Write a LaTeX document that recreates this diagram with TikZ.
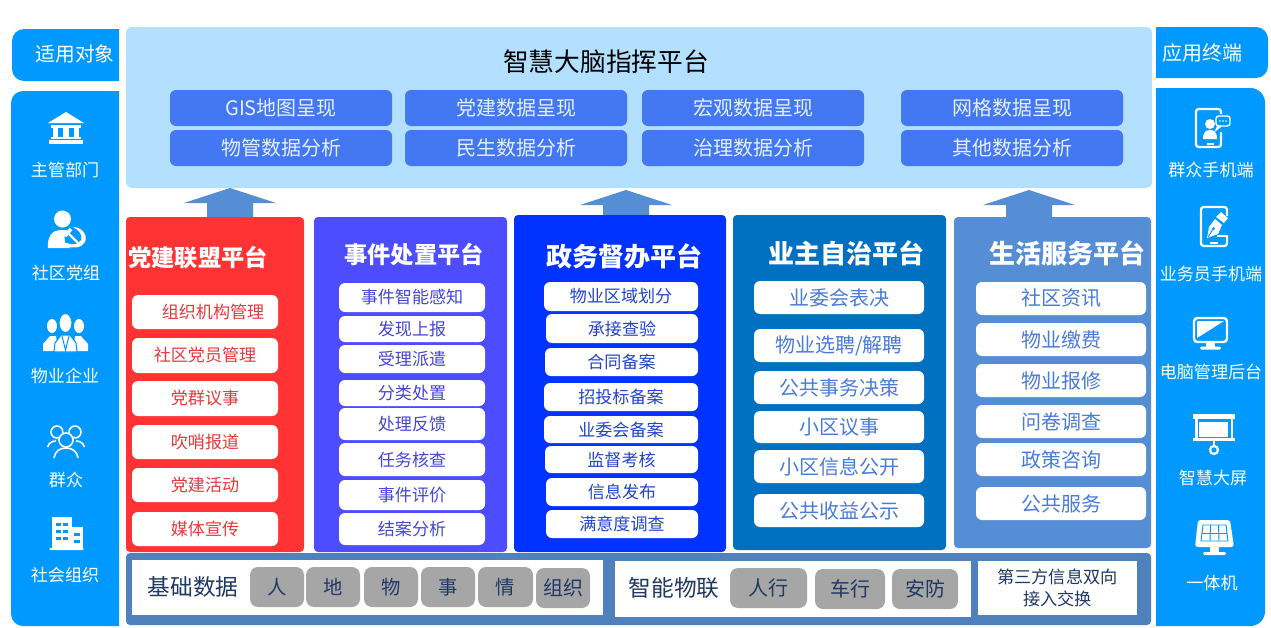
\documentclass[tikz,border=0pt]{standalone}
\usepackage{fontspec}
\setmainfont{Noto Sans CJK SC}
\definecolor{sidecol}{HTML}{0099FF}
\definecolor{topcol}{HTML}{B3E0FF}
\definecolor{btncol}{HTML}{4477F2}
\definecolor{btntxt}{HTML}{E3EFFF}
\definecolor{redcol}{HTML}{FF3333}
\definecolor{redtxt}{HTML}{E8383D}
\definecolor{purcol}{HTML}{4D4DFF}
\definecolor{purtxt}{HTML}{4545D8}
\definecolor{blucol}{HTML}{0033FF}
\definecolor{blutxt}{HTML}{2244C8}
\definecolor{teacol}{HTML}{0070C0}
\definecolor{teatxt}{HTML}{4A7BD8}
\definecolor{lgtcol}{HTML}{558ED5}
\definecolor{botcol}{HTML}{4F81BD}
\definecolor{pilcol}{HTML}{A6A6A6}
\definecolor{inktxt}{HTML}{1F3864}
\tikzset{
	px/.style={x=0.75pt,y=-0.75pt},
	fs/.style={font=\fontsize{#1}{#1}\selectfont},
	platebox/.style={rounded corners=3pt,inner sep=0pt},
	btnbox/.style={platebox,fill=btncol,text=btntxt,rounded corners=4.5pt,fs=15},
	itembox/.style={fill=white,rounded corners=4.5pt,inner sep=0pt},
	reditem/.style={itembox,text=redtxt,fs=12.8},
	puritem/.style={itembox,text=purtxt,fs=12.8},
	bluitem/.style={itembox,text=blutxt,fs=12.8},
	teaitem/.style={itembox,text=teatxt,fs=15},
	lgtitem/.style={itembox,text=teatxt,fs=15},
	pillbox/.style={fill=pilcol,text=inktxt,rounded corners=6pt,inner sep=0pt,fs=14.5},
	whitebox/.style={fill=white,inner sep=0pt},
	heading/.style={text=white,inner sep=0pt,font=\fontsize{#1}{#1}\selectfont\bfseries},
	sidetext/.style={text=white,inner sep=0pt,fs=12.8},
	inktext/.style={text=inktxt,inner sep=0pt,fs=17},
}
\def\cellbox[#1](#2)(#3,#4)(#5,#6)#7{\node[#1,minimum width={(#5-#3)*0.75pt},minimum height={(#6-#4)*0.75pt}] (#2) at ({(#3+#5)/2},{(#4+#6)/2}) {#7};}
\def\upblock(#1,#2,#3){\fill[lgtcol] (#1,#2) -- (#1+46,#2+15) -- (#1+23,#2+15) -- (#1+23,#3) -- (#1-23,#3) -- (#1-23,#2+15) -- (#1-46,#2+15) -- cycle;}

\begin{document}
\begin{tikzpicture}[px]
	\useasboundingbox (0,0) rectangle (1271,628);
	
	%%%%% side panels %%%%%
	\fill[sidecol] (119,29) [rounded corners=9pt] -- (12,29) -- (12,81) [sharp corners] -- (119,81) -- cycle;
	\fill[sidecol] (119,91) [rounded corners=9pt] -- (11,91) -- (11,626) [sharp corners] -- (119,626) -- cycle;
	\fill[sidecol] (1156,27) [rounded corners=9pt] -- (1268,27) -- (1268,78) [sharp corners] -- (1156,78) -- cycle;
	\fill[sidecol] (1156,88) [rounded corners=11pt] -- (1265,88) -- (1265,626) [sharp corners] -- (1156,626) -- cycle;
	
	\node[sidetext,fs=14.8] (usehead) at (75,54) {适用对象};
	\node[sidetext] (user1) at (65,170) {主管部门};
	\node[sidetext] (user2) at (66,273) {社区党组};
	\node[sidetext] (user3) at (65,376) {物业企业};
	\node[sidetext] (user4) at (66,480) {群众};
	\node[sidetext] (user5) at (65,575) {社会组织};
	
	\node[sidetext,fs=15] (termhead) at (1202,53) {应用终端};
	\node[sidetext] (term1) at (1211,170) {群众手机端};
	\node[sidetext] (term2) at (1211,274) {业务员手机端};
	\node[sidetext] (term3) at (1211,372) {电脑管理后台};
	\node[sidetext] (term4) at (1213,478) {智慧大屏};
	\node[sidetext] (term5) at (1212,583) {一体机};
	
	%%%%% top platform %%%%%
	\cellbox[platebox,fill=topcol,rounded corners=4.5pt](brain)(126,27)(1152,188){}
	\node[text=black,inner sep=0pt,fs=19.3] (braintitle) at (606,62) {智慧大脑指挥平台};
	\cellbox[btnbox](btn1)(170,90)(392,126){GIS地图呈现}
	\cellbox[btnbox](btn2)(405,90)(627,126){党建数据呈现}
	\cellbox[btnbox](btn3)(642,90)(864,126){宏观数据呈现}
	\cellbox[btnbox](btn4)(901,90)(1123,126){网格数据呈现}
	\cellbox[btnbox](btn5)(170,130)(392,166){物管数据分析}
	\cellbox[btnbox](btn6)(405,130)(627,166){民生数据分析}
	\cellbox[btnbox](btn7)(642,130)(864,166){治理数据分析}
	\cellbox[btnbox](btn8)(901,130)(1123,166){其他数据分析}
	
	\upblock(230,188,217)
	\upblock(626,190,215)
	\upblock(1029,190,217)
	
	%%%%% five columns %%%%%
	\cellbox[platebox,fill=redcol](redpanel)(126,217)(304,552){}
	\node[heading=17.4] (redtitle) at (198,258) {党建联盟平台};
	\cellbox[reditem](red1)(132,295)(278,329){\hspace{12pt}组织机构管理}
	\cellbox[reditem](red2)(132,338)(278,373){社区党员管理}
	\cellbox[reditem](red3)(132,381)(278,416){党群议事}
	\cellbox[reditem](red4)(132,425)(278,459){吹哨报道}
	\cellbox[reditem](red5)(132,468)(278,502){党建活动}
	\cellbox[reditem](red6)(132,512)(278,546){媒体宣传}
	
	\cellbox[platebox,fill=purcol](purpanel)(314,217)(507,552){}
	\node[heading=17.4] (purtitle) at (414,254) {事件处置平台};
	\cellbox[puritem](pur1)(339,283)(485,312){事件智能感知}
	\cellbox[puritem](pur2)(339,316)(485,342){发现上报}
	\cellbox[puritem](pur3)(339,345)(485,373){受理派遣}
	\cellbox[puritem](pur4)(339,380)(485,406){分类处置}
	\cellbox[puritem](pur5)(339,408)(485,440){处理反馈}
	\cellbox[puritem](pur6)(339,443)(485,476){任务核查}
	\cellbox[puritem](pur7)(339,480)(485,510){事件评价}
	\cellbox[puritem](pur8)(339,513)(485,545){结案分析}
	
	\cellbox[platebox,fill=blucol](blupanel)(514,215)(726,552){}
	\node[heading=19.5] (blutitle) at (624,256) {政务督办平台};
	\cellbox[bluitem](blu1)(544,282)(698,311){物业区域划分}
	\cellbox[bluitem](blu2)(546,314)(698,343){承接查验}
	\cellbox[bluitem](blu3)(545,348)(698,376){合同备案}
	\cellbox[bluitem](blu4)(544,383)(698,411){招投标备案}
	\cellbox[bluitem](blu5)(544,416)(698,443){业委会备案}
	\cellbox[bluitem](blu6)(545,446)(698,473){监督考核}
	\cellbox[bluitem](blu7)(546,478)(698,506){信息发布}
	\cellbox[bluitem](blu8)(546,510)(698,538){满意度调查}
	
	\cellbox[platebox,fill=teacol](teapanel)(733,215)(946,550){}
	\node[heading=19.5] (teatitle) at (846,253) {业主自治平台};
	\cellbox[teaitem](tea1)(754,281)(924,314){业委会表决}
	\cellbox[teaitem](tea2)(754,329)(924,362){物业选聘/解聘}
	\cellbox[teaitem](tea3)(754,371)(924,404){公共事务决策}
	\cellbox[teaitem](tea4)(754,411)(924,443){小区议事}
	\cellbox[teaitem](tea5)(754,450)(924,483){小区信息公开}
	\cellbox[teaitem](tea6)(754,494)(924,527){公共收益公示}
	
	\cellbox[platebox,fill=lgtcol](lgtpanel)(954,217)(1151,548){}
	\node[heading=19.5] (lgttitle) at (1067,253) {生活服务平台};
	\cellbox[lgtitem](lgt1)(976,282)(1146,315){社区资讯}
	\cellbox[lgtitem](lgt2)(976,323)(1146,356){物业缴费}
	\cellbox[lgtitem](lgt3)(976,364)(1146,397){物业报修}
	\cellbox[lgtitem](lgt4)(976,405)(1146,438){问卷调查}
	\cellbox[lgtitem](lgt5)(976,443)(1146,476){政策咨询}
	\cellbox[lgtitem](lgt6)(976,487)(1146,520){公共服务}
	
	%%%%% bottom band %%%%%
	\cellbox[platebox,fill=botcol](band)(126,553)(1151,625){}
	\cellbox[whitebox](basebox)(132,560)(603,615){}
	\node[inktext] (basetext) at (193,587) {基础数据};
	\cellbox[pillbox](pill1)(250,567)(304,607){人}
	\cellbox[pillbox](pill2)(306,567)(360,607){地}
	\cellbox[pillbox](pill3)(364,567)(418,607){物}
	\cellbox[pillbox](pill4)(421,567)(475,607){事}
	\cellbox[pillbox](pill5)(478,567)(533,607){情}
	\cellbox[pillbox,fs=15](pill6)(536,568)(590,608){组织}
	
	\cellbox[whitebox](iotbox)(615,561)(971,617){}
	\node[inktext] (iottext) at (674,588) {智能物联};
	\cellbox[pillbox,fs=15](pill7)(730,568)(807,608){人行}
	\cellbox[pillbox,fs=15](pill8)(815,569)(885,609){车行}
	\cellbox[pillbox,fs=15](pill9)(892,569)(958,609){安防}
	
	\cellbox[whitebox,align=center,text=inktxt,font=\fontsize{12.9}{16}\selectfont](swapbox)(978,561)(1137,615){第三方信息双向\\接入交换}
	
	%%%%% icons left %%%%%
	\fill[white] (66,112) -- (84,123) -- (48,123) -- cycle;
	\fill[white] (51,125) rectangle (81,128);
	\fill[white] (53,128) rectangle (58,137);
	\fill[white] (63,128) rectangle (69,137);
	\fill[white] (74,128) rectangle (79,137);
	\fill[white] (51,137) rectangle (81,139);
	\fill[white] (49,140) rectangle (83,144);
	
	\fill[white] (62.5,219) circle (8.5);
	\fill[white] (48,248) .. controls (47,236) and (53,230) .. (60,230) -- (72,230) -- (72,248) -- cycle;
	\fill[sidecol] (76,238) circle (11.5);
	\fill[white] (73,227) .. controls (82,227) and (88,235) .. (85,242) .. controls (82,248) and (72,249) .. (66,246) -- (64,247) -- (63,245) -- (67,243) .. controls (73,246) and (79,244) .. (81,240) .. controls (83,235) and (79,230) .. (73,227) -- cycle;
	\draw[white,line width=1.8pt] (68,233) -- (78,243);
	\draw[white,line width=2.6pt] (65,236) -- (71,229);
	
	\fill[white] (43,351) -- (43,344) -- (50,336) -- (56,336) -- (58,351) -- cycle;
	\fill[white] (88,351) -- (88,344) -- (81,336) -- (75,336) -- (73,351) -- cycle;
	\fill[white] (52,326) ellipse (5 and 7);
	\fill[white] (79,326) ellipse (5 and 7);
	\fill[white,draw=sidecol,line width=0.8pt] (54,352) -- (55,343) -- (61,335) -- (70,335) -- (76,343) -- (77,352) -- cycle;
	\fill[white,draw=sidecol,line width=0.8pt] (65.5,323) ellipse (6.5 and 9.5);
	\draw[sidecol,line width=0.8pt] (62,336) -- (65.5,350) -- (69,336);
	
	\draw[white,line width=1.2pt] (66,440) circle (7);
	\draw[white,line width=1.2pt] (54,458) .. controls (55,451) and (60,448) .. (66,448) .. controls (72,448) and (77,451) .. (78,458);
	\draw[white,line width=1.2pt] (57,432) ++(60:6) arc (60:370:6);
	\draw[white,line width=1.2pt] (75,432) ++(170:6) arc (170:480:6);
	\draw[white,line width=1.2pt] (47.5,447) .. controls (49,443) and (52,441) .. (56,441);
	\draw[white,line width=1.2pt] (84.5,447) .. controls (83,443) and (80,441) .. (76,441);
	
	\fill[white] (52,517) rectangle (72,548);
	\fill[white] (72,527) rectangle (83,548);
	\fill[white,rounded corners=1pt] (49,548) rectangle (84,550);
	\foreach \rowy in {523,530,537}{
		\fill[sidecol] (56,\rowy) rectangle (61,\rowy+3);
		\fill[sidecol] (63,\rowy) rectangle (68,\rowy+3);
	}
	\fill[sidecol] (74,533) rectangle (80,536);
	\fill[sidecol] (74,540) rectangle (80,543);
	
	%%%%% icons right %%%%%
	\draw[white,line width=1.7pt,rounded corners=2pt] (1221,114) -- (1221,109) -- (1196,109) -- (1196,147) -- (1221,147) -- (1221,132);
	\fill[white] (1207,143) rectangle (1214,145);
	\fill[white] (1210,124) circle (5);
	\fill[white] (1203,139) .. controls (1203,132) and (1206,130) .. (1210,130) .. controls (1214,130) and (1217,132) .. (1217,139) -- cycle;
	\draw[white,line width=1.1pt,rounded corners=2pt] (1216,116) rectangle (1230,126);
	\draw[white,line width=1.1pt] (1218,126) -- (1216,130) -- (1221,126);
	\foreach \dotx in {1220,1223,1226}{
		\fill[white] (\dotx,121) circle (0.8);
	}
	
	\draw[white,line width=1.7pt,rounded corners=2pt] (1227,207) rectangle (1201,246);
	\fill[white] (1210,241.5) rectangle (1218,243.5);
	\fill[sidecol] (1222,216) rectangle (1230,236);
	\fill[white] (1221,212) -- (1228,218) -- (1224,223) -- (1216,217) -- cycle;
	\fill[white] (1215,219) -- (1222,225) -- (1218,234) -- (1207,238) -- (1209,227) -- cycle;
	\fill[sidecol] (1213.5,228.5) circle (1.5);
	\draw[sidecol,line width=0.7pt] (1208,237) -- (1213,229);
	\draw[white,line width=1.4pt] (1217,236) -- (1228,236);
	
	\draw[white,line width=1.8pt,rounded corners=2.5pt] (1194,318) rectangle (1227,342);
	\fill[white] (1197,321) -- (1224,321) -- (1197,338) -- cycle;
	\fill[white] (1206,343) rectangle (1215,347);
	\fill[white,rounded corners=1pt] (1200,346.5) rectangle (1221,349.5);
	
	\fill[white] (1193,414) rectangle (1235,419);
	\fill[white] (1195,419) rectangle (1197.5,438);
	\fill[white] (1230.5,419) rectangle (1233,438);
	\fill[white] (1199,422) rectangle (1228,437);
	\fill[white] (1193,438) rectangle (1235,441);
	\draw[white,line width=1.7pt] (1214,450) circle (4);
	\draw[white,line width=1.7pt] (1214,441) -- (1214,446);
	
	\fill[white,rounded corners=2pt] (1198,520) -- (1230,520) -- (1234,547) -- (1195,547) -- cycle;
	\draw[sidecol,line width=0.7pt] (1203,525) -- (1226,525) -- (1228,541) -- (1201,541) -- cycle;
	\draw[sidecol,line width=0.7pt] (1202,533) -- (1227,533);
	\draw[sidecol,line width=0.7pt] (1210.5,525) -- (1210,541);
	\draw[sidecol,line width=0.7pt] (1218.5,525) -- (1219,541);
	\fill[white] (1210,547) rectangle (1219,552);
	\fill[white,rounded corners=1pt] (1203,552) rectangle (1226,555);
\end{tikzpicture}
\end{document}
